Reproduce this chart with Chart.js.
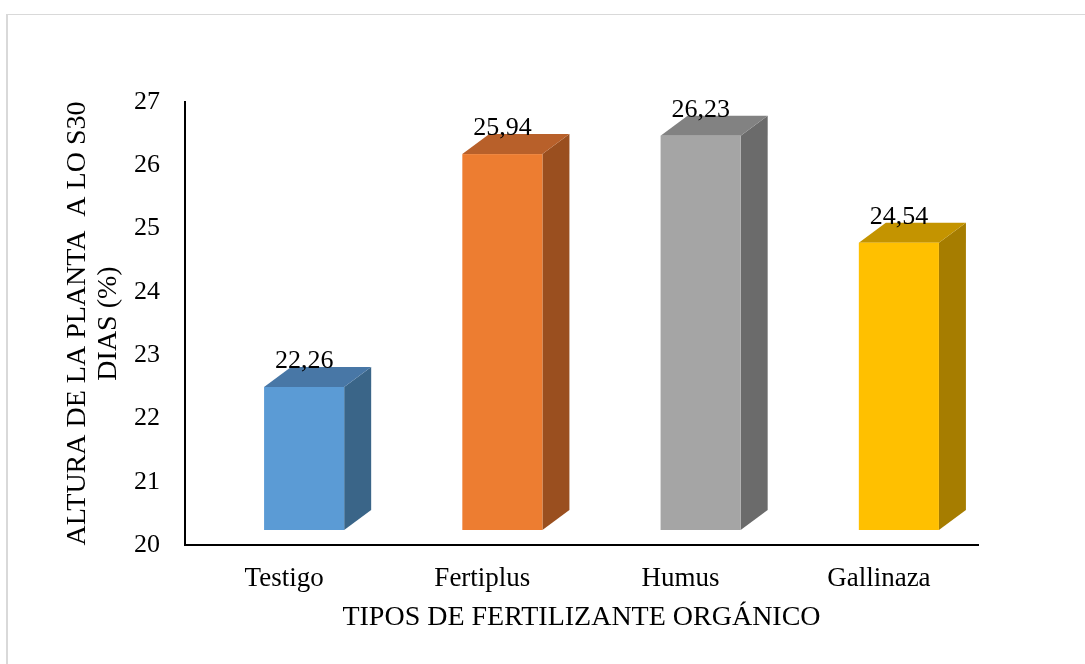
<!DOCTYPE html>
<html>
<head>
<meta charset="utf-8">
<script src="https://cdn.jsdelivr.net/npm/chart.js@4.4.0/dist/chart.umd.min.js"></script>
<style>
    html, body { margin: 0; padding: 0; background: #fff; overflow: hidden; }
    #wrap { position: relative; width: 1085px; height: 664px; }
    #frame {
        position: absolute; left: 6px; top: 14px; width: 2000px; height: 2000px;
        border-left: 2px solid #d9d9d9; border-top: 1.5px solid #d9d9d9;
    }
    #chart { position: absolute; left: 0; top: 0; }
</style>
</head>
<body>
<div id="wrap">
    <div id="frame"></div>
    <canvas id="chart" width="1085" height="664"></canvas>
</div>
<script>
// Data
const categories = ['Testigo', 'Fertiplus', 'Humus', 'Gallinaza'];
const heights = [22.26, 25.94, 26.23, 24.54];
const yTicks = [20, 21, 22, 23, 24, 25, 26, 27];

// front / top / side colours of each 3D bar
const frontColors = ['#5b9bd5', '#ed7d31', '#a5a5a5', '#ffc000'];
const topColors = ['#4877a6', '#b8602a', '#828282', '#c49400'];
const sideColors = ['#3a6588', '#9a4f1f', '#6b6b6b', '#a67d00'];

const serif = "'Liberation Serif', 'Times New Roman', serif";

// Draw the bars as 3D boxes (front shifted up, depth to the upper right)
const bars3d = {
    id: 'bars3d',
    beforeDatasetsDraw() {
        return false;
    },
    afterDraw(chart) {
        const ctx = chart.ctx;
        const yScale = chart.scales.y;
        const meta = chart.getDatasetMeta(0);
        const dx = 27, dy = -20, lift = 15, shift = 20;
        ctx.save();
        meta.data.forEach((el, i) => {
            const w = el.width;
            const x0 = el.x - w / 2 + shift;
            const x1 = x0 + w;
            const yt = yScale.getPixelForValue(heights[i]) - lift;
            const yb = yScale.getPixelForValue(yScale.min) - lift;

            // side
            ctx.fillStyle = sideColors[i];
            ctx.beginPath();
            ctx.moveTo(x1, yt);
            ctx.lineTo(x1 + dx, yt + dy);
            ctx.lineTo(x1 + dx, yb + dy);
            ctx.lineTo(x1, yb);
            ctx.closePath();
            ctx.fill();

            // top
            ctx.fillStyle = topColors[i];
            ctx.beginPath();
            ctx.moveTo(x0, yt);
            ctx.lineTo(x0 + dx, yt + dy);
            ctx.lineTo(x1 + dx, yt + dy);
            ctx.lineTo(x1, yt);
            ctx.closePath();
            ctx.fill();

            // front
            ctx.fillStyle = frontColors[i];
            ctx.fillRect(x0, yt, w, yb - yt);

            // value label
            ctx.fillStyle = '#000';
            ctx.font = '26px ' + serif;
            ctx.textAlign = 'center';
            ctx.textBaseline = 'middle';
            ctx.fillText(heights[i].toFixed(2).replace('.', ','), (x0 + x1) / 2, yt - 26);
        });
        ctx.restore();
    }
};

new Chart(document.getElementById('chart'), {
    type: 'bar',
    data: {
        labels: categories,
        datasets: [{
            data: heights,
            backgroundColor: frontColors,
            categoryPercentage: 1,
            barPercentage: 0.404
        }]
    },
    options: {
        responsive: false,
        animation: false,
        devicePixelRatio: 1,
        layout: { padding: { left: 0, right: 107, top: 102, bottom: 0 } },
        plugins: {
            legend: { display: false },
            tooltip: { enabled: false }
        },
        scales: {
            x: {
                grid: { display: false, drawTicks: false },
                border: { display: true, color: '#000', width: 2 },
                ticks: { color: '#000', font: { family: serif, size: 27 }, padding: 18, maxRotation: 0 },
                title: {
                    display: true,
                    text: 'TIPOS DE FERTILIZANTE ORGÁNICO',
                    color: '#000',
                    font: { family: serif, size: 28 },
                    padding: { top: 0, bottom: 30 }
                },
                afterFit(scale) { scale.height = 119; }
            },
            y: {
                min: 20,
                max: 27,
                afterBuildTicks(scale) { scale.ticks = yTicks.map(v => ({ value: v })); },
                grid: { display: false, drawTicks: false },
                border: { display: true, color: '#000', width: 2 },
                ticks: { color: '#000', font: { family: serif, size: 26 }, padding: 25 },
                title: {
                    display: true,
                    text: ['ALTURA DE LA PLANTA  A LO S30', 'DIAS (%)'],
                    color: '#000',
                    font: { family: serif, size: 28, lineHeight: 1.1 },
                    padding: { top: 62, bottom: 0 }
                },
                afterFit(scale) { scale.width = 185; }
            }
        }
    },
    plugins: [bars3d]
});
</script>
</body>
</html>
